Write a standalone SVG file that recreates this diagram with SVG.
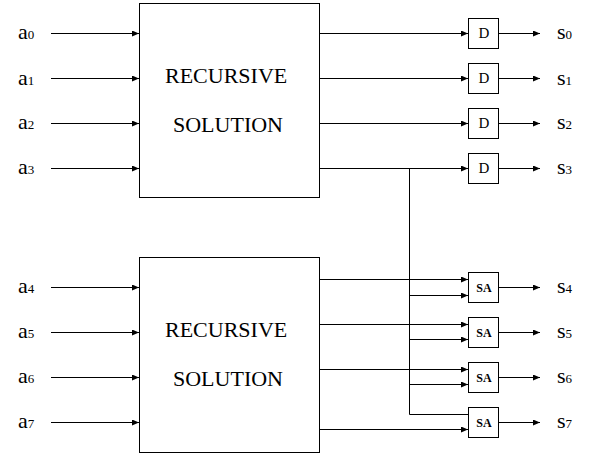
<svg xmlns="http://www.w3.org/2000/svg" width="593" height="454" viewBox="0 0 593 454">
<style>
.box{fill:#fff;stroke:#000;stroke-width:1}
.ln{fill:none;stroke:#000;stroke-width:1}
text{font-family:'Liberation Serif','DejaVu Serif',serif;fill:#000}
.big{font-size:22px}
.lbl{font-size:22px}
.sub{font-size:13px}
.d{font-size:15px;text-anchor:middle}
.sa{font-size:12px;font-weight:bold;text-anchor:middle}
</style>
<defs>
<marker id="ah" markerUnits="userSpaceOnUse" markerWidth="8" markerHeight="6" refX="7" refY="3" orient="auto">
<path d="M0,0 L7,3 L0,6 Z" fill="#000"/>
</marker>
</defs>
<g id="rec1">
<rect class="box" x="139.5" y="3.5" width="180" height="194"/>
<text class="big" x="165" y="83">RECURSIVE</text>
<text class="big" x="173" y="132">SOLUTION</text>
</g>
<g id="rec2">
<rect class="box" x="139.5" y="257.5" width="180" height="195"/>
<text class="big" x="165" y="337">RECURSIVE</text>
<text class="big" x="173" y="386">SOLUTION</text>
</g>
<g id="d0"><rect class="box" x="468.5" y="18.5" width="30" height="30"/><text class="d" x="484" y="38">D</text></g>
<g id="d1"><rect class="box" x="468.5" y="63.5" width="30" height="30"/><text class="d" x="484" y="83">D</text></g>
<g id="d2"><rect class="box" x="468.5" y="108.5" width="30" height="30"/><text class="d" x="484" y="128">D</text></g>
<g id="d3"><rect class="box" x="468.5" y="153.5" width="30" height="30"/><text class="d" x="484" y="173">D</text></g>
<g id="sa4"><rect class="box" x="468.5" y="272.5" width="30" height="30"/><text class="sa" x="484" y="292">SA</text></g>
<g id="sa5"><rect class="box" x="468.5" y="317.5" width="30" height="30"/><text class="sa" x="484" y="337">SA</text></g>
<g id="sa6"><rect class="box" x="468.5" y="362.5" width="30" height="30"/><text class="sa" x="484" y="382">SA</text></g>
<g id="sa7"><rect class="box" x="468.5" y="407.5" width="30" height="30"/><text class="sa" x="484" y="427">SA</text></g>
<g id="labels">
<text class="lbl" x="18" y="39">a<tspan class="sub">0</tspan></text>
<text class="lbl" x="18" y="85">a<tspan class="sub">1</tspan></text>
<text class="lbl" x="18" y="129">a<tspan class="sub">2</tspan></text>
<text class="lbl" x="18" y="174">a<tspan class="sub">3</tspan></text>
<text class="lbl" x="18" y="293">a<tspan class="sub">4</tspan></text>
<text class="lbl" x="18" y="338">a<tspan class="sub">5</tspan></text>
<text class="lbl" x="18" y="383">a<tspan class="sub">6</tspan></text>
<text class="lbl" x="18" y="428">a<tspan class="sub">7</tspan></text>
<text class="lbl" x="557" y="39">s<tspan class="sub">0</tspan></text>
<text class="lbl" x="557" y="85">s<tspan class="sub">1</tspan></text>
<text class="lbl" x="557" y="129">s<tspan class="sub">2</tspan></text>
<text class="lbl" x="557" y="174">s<tspan class="sub">3</tspan></text>
<text class="lbl" x="557" y="293">s<tspan class="sub">4</tspan></text>
<text class="lbl" x="557" y="338">s<tspan class="sub">5</tspan></text>
<text class="lbl" x="557" y="383">s<tspan class="sub">6</tspan></text>
<text class="lbl" x="557" y="428">s<tspan class="sub">7</tspan></text>
</g>
<g id="connectors">
<g marker-end="url(#ah)" class="ln">
<line x1="51" y1="33.5" x2="139" y2="33.5"/>
<line x1="51" y1="78.5" x2="139" y2="78.5"/>
<line x1="51" y1="123.5" x2="139" y2="123.5"/>
<line x1="51" y1="168.5" x2="139" y2="168.5"/>
<line x1="51" y1="287.5" x2="139" y2="287.5"/>
<line x1="51" y1="332.5" x2="139" y2="332.5"/>
<line x1="51" y1="377.5" x2="139" y2="377.5"/>
<line x1="51" y1="422.5" x2="139" y2="422.5"/>
<line x1="320" y1="33.5" x2="468" y2="33.5"/>
<line x1="320" y1="78.5" x2="468" y2="78.5"/>
<line x1="320" y1="123.5" x2="468" y2="123.5"/>
<line x1="320" y1="168.5" x2="468" y2="168.5"/>
<line x1="320" y1="279.5" x2="468" y2="279.5"/>
<line x1="320" y1="324.5" x2="468" y2="324.5"/>
<line x1="320" y1="369.5" x2="468" y2="369.5"/>
<line x1="320" y1="429.5" x2="468" y2="429.5"/>
<line x1="409.5" y1="295.5" x2="468" y2="295.5"/>
<line x1="409.5" y1="339.5" x2="468" y2="339.5"/>
<line x1="409.5" y1="384.5" x2="468" y2="384.5"/>
<line x1="499" y1="33.5" x2="540" y2="33.5"/>
<line x1="499" y1="78.5" x2="540" y2="78.5"/>
<line x1="499" y1="123.5" x2="540" y2="123.5"/>
<line x1="499" y1="168.5" x2="540" y2="168.5"/>
<line x1="499" y1="287.5" x2="540" y2="287.5"/>
<line x1="499" y1="332.5" x2="540" y2="332.5"/>
<line x1="499" y1="377.5" x2="540" y2="377.5"/>
<line x1="499" y1="422.5" x2="540" y2="422.5"/>
</g>
<path class="ln" d="M409.5,168.5 V414.5 H468"/>
</g>
</svg>
